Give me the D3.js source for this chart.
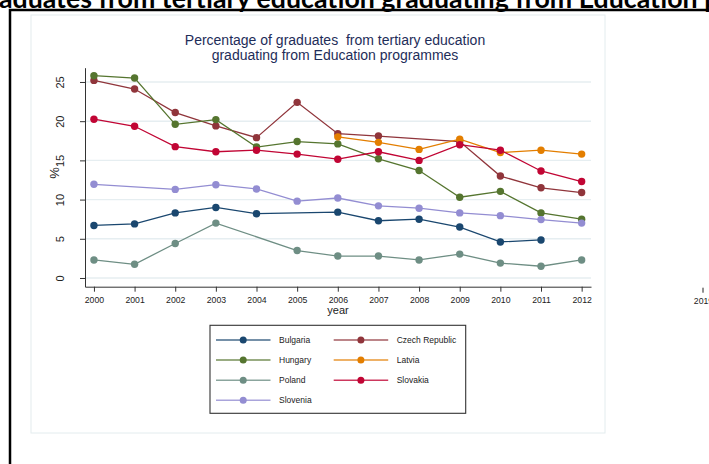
<!DOCTYPE html>
<html>
  <head>
    <meta charset="utf-8">
    <script src="https://cdnjs.cloudflare.com/ajax/libs/d3/7.8.5/d3.min.js"></script>
<style>
  body { margin: 0; background: #ffffff; }
  svg text { font-family: "Liberation Sans", Arial, sans-serif; }
  svg text.banner { font-family: Lato, "Open Sans", sans-serif; font-weight: bold; }
</style>
  </head>
  <body>
    <div id="vis"></div>
    <script type="text/javascript">

      const years = [2000, 2001, 2002, 2003, 2004, 2005, 2006, 2007, 2008, 2009, 2010, 2011, 2012];
      const bulgaria = [6.7, 6.9, 8.3, 9.0, 8.2, null, 8.4, 7.3, 7.5, 6.5, 4.6, 4.85, null];
      const czech    = [25.2, 24.1, 21.1, 19.4, 17.9, 22.4, 18.4, 18.1, null, 17.4, 13.0, 11.5, 10.9];
      const hungary  = [25.8, 25.5, 19.6, 20.2, 16.7, 17.4, 17.1, 15.2, 13.7, 10.3, 11.05, 8.3, 7.5];
      const latvia   = [null, null, null, null, null, null, 18.0, 17.3, 16.4, 17.7, 16.0, 16.3, 15.8];
      const poland   = [2.3, 1.75, 4.4, 7.0, null, 3.5, 2.8, 2.8, 2.3, 3.05, 1.9, 1.5, 2.3];
      const slovakia = [20.25, 19.35, 16.75, 16.1, 16.3, 15.8, 15.15, 16.1, 15.0, 17.0, 16.3, 13.65, 12.3];
      const slovenia = [11.95, null, 11.3, 11.9, 11.35, 9.8, 10.2, 9.2, 8.9, 8.3, 7.95, 7.45, 7.0];

      const countries = ["Bulgaria", "Czech Republic", "Hungary", "Latvia", "Poland", "Slovakia", "Slovenia"];
      const colors = ["#1a476f", "#90353b", "#55752f", "#e37e00", "#6e8e84", "#c10534", "#938dd2"];
      const seriesValues = [bulgaria, czech, hungary, latvia, poland, slovakia, slovenia];
      const yTicks = [0, 5, 10, 15, 20, 25];
      const titleLines = ["Percentage of graduates  from tertiary education", "graduating from Education programmes"];
      const bannerText = "Percentage of graduates from tertiary education graduating from Education programmes";

      const w = 709, h = 464;
      const svg = d3.select("#vis").append("svg")
          .attr("width", w).attr("height", h);

      // clipped banner title from the page above
      const banner = svg.append("text")
          .attr("class", "banner")
          .attr("y", 7.5)
          .attr("font-size", 20)
          .attr("fill", "#000")
          .text(bannerText);
      const i0 = bannerText.indexOf("aduates");
      const i1 = bannerText.indexOf("Education programmes") + "Education".length;
      const a = banner.node().getSubStringLength(0, i0);
      const b = banner.node().getSubStringLength(0, i1);
      const k = 699 / (b - a);
      banner.attr("font-size", 20 * k).attr("x", -1 - a * k);

      // outer frame
      svg.append("path")
          .attr("d", "M10,470 L10,10 L720,10")
          .attr("fill", "none")
          .attr("stroke", "#000")
          .attr("stroke-width", 2.5);

      // graph region
      svg.append("rect")
          .attr("x", 31).attr("y", 15)
          .attr("width", 574).attr("height", 418)
          .attr("fill", "#fff")
          .attr("stroke", "#e3ecee")
          .attr("stroke-width", 1);

      const xScale = d3.scaleLinear().domain([1999.78, 2012.23]).range([85, 591]);
      const yScale = d3.scaleLinear().domain([-1.11, 26.82]).range([286.7, 67.7]);

      // gridlines
      svg.append("g").selectAll("line")
          .data(yTicks)
          .join("line")
          .attr("x1", 85).attr("x2", 591)
          .attr("y1", d => yScale(d)).attr("y2", d => yScale(d))
          .attr("stroke", "#e6eef1")
          .attr("stroke-width", 1.4);

      // axes
      const xAxis = svg.append("g")
          .attr("transform", "translate(0,286.7)")
          .call(d3.axisBottom(xScale).tickValues(years).tickFormat(d3.format("d")).tickSize(5).tickSizeOuter(0));
      xAxis.selectAll("text").attr("font-size", 8.7).attr("fill", "#222").attr("dy", "0.95em");

      const yAxis = svg.append("g")
          .attr("transform", "translate(85,0)")
          .call(d3.axisLeft(yScale).tickValues(yTicks).tickSize(5).tickSizeOuter(0));
      yAxis.selectAll("text")
          .attr("font-size", 11).attr("fill", "#222")
          .attr("text-anchor", "middle")
          .attr("dy", null)
          .attr("dominant-baseline", "central")
          .attr("x", null)
          .attr("transform", "translate(-25,0) rotate(-90)");
      svg.selectAll(".domain, .tick line").attr("stroke", "#333");

      // stray tick from neighbouring graph
      svg.append("line").attr("x1", 703).attr("x2", 703).attr("y1", 287.7).attr("y2", 292.7)
          .attr("stroke", "#222");
      svg.append("text").attr("x", 703.5).attr("y", 303.5)
          .attr("text-anchor", "middle").attr("font-size", 8.7).attr("fill", "#222")
          .text("2019");

      // axis titles
      svg.append("text").attr("x", 338).attr("y", 313.5)
          .attr("text-anchor", "middle").attr("font-size", 11).attr("fill", "#222")
          .text("year");
      svg.append("text")
          .attr("transform", "translate(54,173) rotate(-90)")
          .attr("text-anchor", "middle").attr("dominant-baseline", "central")
          .attr("font-size", 13).attr("fill", "#222")
          .text("%");

      // chart title
      svg.append("g").selectAll("text")
          .data(titleLines)
          .join("text")
          .attr("x", 335)
          .attr("y", (d, i) => 45 + i * 15)
          .attr("text-anchor", "middle")
          .attr("font-size", 14)
          .attr("fill", "#1e2d59")
          .style("white-space", "pre")
          .text(d => d);

      // series
      const line = d3.line()
          .defined(d => d.v !== null)
          .x(d => xScale(d.year))
          .y(d => yScale(d.v));

      seriesValues.forEach((vals, si) => {
          const pts = years.map((yr, i) => ({year: yr, v: vals[i]})).filter(d => d.v !== null);
          const g = svg.append("g");
          g.append("path")
              .datum(pts)
              .attr("fill", "none")
              .attr("stroke", colors[si])
              .attr("stroke-width", 1.3)
              .attr("d", line);
          g.selectAll("circle")
              .data(pts)
              .join("circle")
              .attr("cx", d => xScale(d.year))
              .attr("cy", d => yScale(d.v))
              .attr("r", 3.7)
              .attr("fill", colors[si]);
      });

      // legend
      const legend = svg.append("g");
      legend.append("rect")
          .attr("x", 210).attr("y", 325.3)
          .attr("width", 255.7).attr("height", 88)
          .attr("fill", "#fff")
          .attr("stroke", "#333")
          .attr("stroke-width", 1.1);
      const items = legend.selectAll("g.item")
          .data(countries)
          .join("g")
          .attr("class", "item")
          .attr("transform", (d, i) => `translate(${i % 2 === 0 ? 216 : 333.7},${340 + Math.floor(i / 2) * 20.1})`);
      items.append("line")
          .attr("x1", 0).attr("x2", 54.5)
          .attr("stroke", (d, i) => colors[i])
          .attr("stroke-opacity", 0.8)
          .attr("stroke-width", 1.5);
      items.append("circle")
          .attr("cx", 27.2).attr("r", 3.5)
          .attr("fill", (d, i) => colors[i]);
      items.append("text")
          .attr("x", 63)
          .attr("dominant-baseline", "central")
          .attr("font-size", 8.5)
          .attr("fill", "#222")
          .text(d => d);

    </script>
  </body>
</html>
